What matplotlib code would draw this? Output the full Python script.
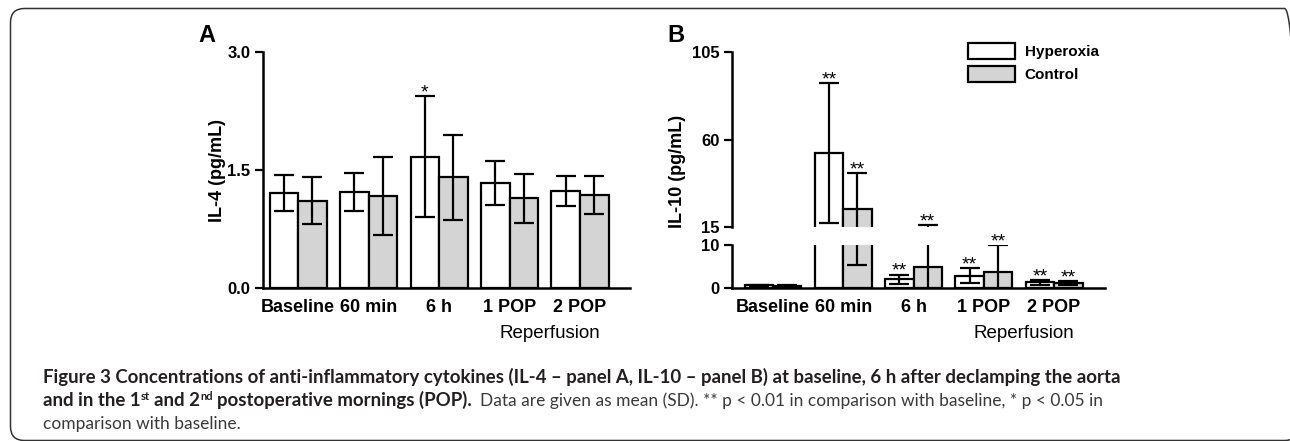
import matplotlib
matplotlib.use("Agg")
import matplotlib.pyplot as plt
import numpy as np
from matplotlib.patches import Patch, FancyBboxPatch
from matplotlib.transforms import IdentityTransform

plt.rcParams['font.family'] = ['Liberation Sans', 'DejaVu Sans']

categories = ['Baseline', '60 min', '6 h', '1 POP', '2 POP']

il4_hyp = [1.21, 1.22, 1.67, 1.34, 1.23]
il4_hyp_sd = [0.23, 0.24, 0.77, 0.28, 0.19]
il4_ctl = [1.11, 1.17, 1.41, 1.14, 1.18]
il4_ctl_sd = [0.30, 0.49, 0.54, 0.31, 0.24]
il4_hyp_sig = ['', '', '*', '', '']
il4_ctl_sig = ['', '', '', '', '']

il10_hyp = [0.6, 53.2, 2.0, 2.8, 1.3]
il10_hyp_sd = [0.2, 36.0, 1.1, 1.75, 0.5]
il10_ctl = [0.5, 24.1, 4.9, 3.8, 1.1]
il10_ctl_sd = [0.15, 18.8, 11.1, 6.1, 0.5]
il10_hyp_sig = ['', '**', '**', '**', '**']
il10_ctl_sig = ['', '**', '**', '**', '**']

W, H = 1290, 441
fig = plt.figure(figsize=(W / 100, H / 100), dpi=100)


def px_axes(l, t, r, b):
    return fig.add_axes([l / W, 1 - b / H, (r - l) / W, (b - t) / H])


LW = 1.6
bw = 0.405
x = np.arange(len(categories))
fill_h, fill_c = 'white', '#d4d4d4'


def draw_bars(ax, hyp, hyp_sd, ctl, ctl_sd):
    ax.bar(x - bw / 2, hyp, bw, color=fill_h, edgecolor='black', linewidth=LW)
    ax.bar(x + bw / 2, ctl, bw, color=fill_c, edgecolor='black', linewidth=LW)
    for off, m, s in [(-bw / 2, hyp, hyp_sd), (bw / 2, ctl, ctl_sd)]:
        ax.errorbar(x + off, m, yerr=s, fmt='none', ecolor='black',
                    elinewidth=LW, capsize=7, capthick=LW)


def style(ax):
    for sp in ['top', 'right']:
        ax.spines[sp].set_visible(False)
    for sp in ['left', 'bottom']:
        ax.spines[sp].set_linewidth(LW + 0.2)
    ax.tick_params(axis='y', length=6, width=LW, pad=3, labelsize=12)
    ax.tick_params(axis='x', length=0, pad=8, labelsize=13)
    for lab in ax.get_yticklabels() + ax.get_xticklabels():
        lab.set_fontweight('bold')


def stars(ax, xs, tops, marks):
    for xi, t, m in zip(xs, tops, marks):
        if m:
            ax.annotate(m, (xi, t), xytext=(0, -1), textcoords='offset points',
                        ha='center', va='baseline', fontsize=14, annotation_clip=False)


# Panel A
axA = px_axes(263, 52, 630, 288)
draw_bars(axA, il4_hyp, il4_hyp_sd, il4_ctl, il4_ctl_sd)
axA.set_ylim(0, 3.0)
axA.set_xlim(-0.5, 4.71)
axA.set_yticks([0, 1.5, 3.0])
axA.set_yticklabels(['0.0', '1.5', '3.0'])
axA.set_xticks(x)
axA.set_xticklabels(categories)
style(axA)
stars(axA, x - bw / 2, np.add(il4_hyp, il4_hyp_sd), il4_hyp_sig)
stars(axA, x + bw / 2, np.add(il4_ctl, il4_ctl_sd), il4_ctl_sig)
fig.text(217 / W, 1 - 170 / H, 'IL-4 (pg/mL)', rotation=90, ha='center', va='center',
         fontsize=13, fontweight='bold')
fig.text(198 / W, 1 - 35 / H, 'A', ha='left', va='center', fontsize=17, fontweight='bold')
axA.annotate('Reperfusion', (3.57, H - 333), xycoords=('data', 'figure pixels'),
             ha='center', va='center', fontsize=13.5, annotation_clip=False)

# Panel B (broken axis)
axBt = px_axes(732, 52, 1105, 227)
axBb = px_axes(732, 244.7, 1105, 288)
for ax in (axBt, axBb):
    draw_bars(ax, il10_hyp, il10_hyp_sd, il10_ctl, il10_ctl_sd)
    ax.set_xlim(-0.583, 4.725)
    style(ax)
axBt.set_ylim(15, 105)
axBt.set_yticks([15, 60, 105])
axBt.spines['bottom'].set_visible(False)
axBt.set_xticks([])
axBb.set_ylim(0, 10)
axBb.set_yticks([0, 10])
axBb.set_xticks(x)
axBb.set_xticklabels(categories)
for ax in (axBt, axBb):
    for lab in ax.get_yticklabels() + ax.get_xticklabels():
        lab.set_fontweight('bold')

for off, m, s, sig in [(-bw / 2, il10_hyp, il10_hyp_sd, il10_hyp_sig),
                       (bw / 2, il10_ctl, il10_ctl_sd, il10_ctl_sig)]:
    tops = np.add(m, s)
    for xi, t, mk in zip(x + off, tops, sig):
        stars(axBt if t > 15 else axBb, [xi], [t], [mk])

fig.text(678 / W, 1 - 171 / H, 'IL-10 (pg/mL)', rotation=90, ha='center', va='center',
         fontsize=13, fontweight='bold')
fig.text(667 / W, 1 - 35 / H, 'B', ha='left', va='center', fontsize=17, fontweight='bold')
axBb.annotate('Reperfusion', (3.57, H - 333), xycoords=('data', 'figure pixels'),
              ha='center', va='center', fontsize=13.5, annotation_clip=False)

handles = [Patch(facecolor=fill_h, edgecolor='black', linewidth=LW, label='Hyperoxia'),
           Patch(facecolor=fill_c, edgecolor='black', linewidth=LW, label='Control')]
fig.legend(handles=handles, loc='upper left', bbox_to_anchor=(968 / W, 1 - 43 / H),
           bbox_transform=fig.transFigure, frameon=False, borderpad=0, borderaxespad=0,
           handlelength=3.1, handleheight=1.25, handletextpad=0.6, labelspacing=0.45,
           prop={'weight': 'bold', 'size': 11})

# outer rounded frame
frame = FancyBboxPatch((10.5, 0.5), 1288, 432, boxstyle='round,pad=0,rounding_size=14',
                       transform=IdentityTransform(), facecolor='none',
                       edgecolor='#333333', linewidth=1.1)
fig.patches.append(frame)

# caption, drawn in runs
cap_font = ['Lato', 'DejaVu Sans']
cap_col = '#231f20'
reg_col = '#3a3a3a'
renderer = fig.canvas.get_renderer()


def runs(y, parts, x0=43):
    xp = x0
    for txt, weight, size, dy, gap in parts:
        col = cap_col if weight == 'bold' else reg_col
        t = fig.text(xp / W, (H - y + dy) / H, txt, ha='left', va='baseline',
                     fontsize=size, fontweight=weight, color=col, family=cap_font)
        bb = t.get_window_extent(renderer)
        xp = bb.x1 + gap


fs = 13.4
fs_reg = 12.5
runs(383, [('Figure 3 Concentrations of anti-inflammatory cytokines (IL-4 \u2013 panel A, '
            'IL-10 \u2013 panel B) at baseline, 6 h after declamping the aorta', 'bold', fs, 0, 0)])
runs(406, [('and in the 1', 'bold', fs, 0, 0.5),
           ('st', 'bold', fs * 0.6, 6, 4),
           ('and 2', 'bold', fs, 0, 0.5),
           ('nd', 'bold', fs * 0.6, 6, 4),
           ('postoperative mornings (POP).', 'bold', fs, 0, 8),
           ('Data are given as mean (SD). ** p < 0.01 in comparison with baseline, '
            '* p < 0.05 in', 'normal', fs_reg, 0, 0)])
runs(429, [('comparison with baseline.', 'normal', fs_reg, 0, 0)])

fig.savefig('out.png', dpi=100)
